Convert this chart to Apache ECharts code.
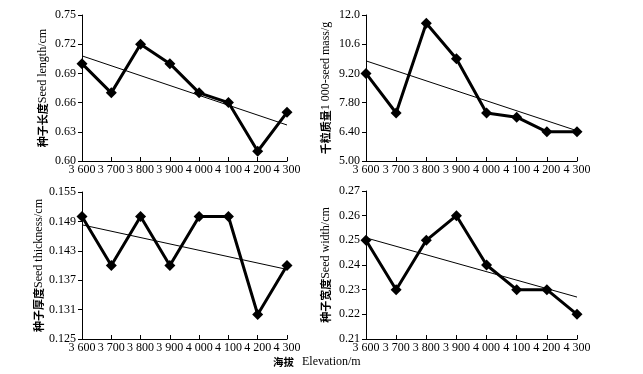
<!DOCTYPE html>
<html>
<head>
<meta charset="utf-8">
<script src="https://cdn.jsdelivr.net/npm/echarts@6/dist/echarts.min.js"></script>
<style>
  html, body { margin: 0; padding: 0; background: #fff; }
  #chart { width: 643px; height: 374px; }
</style>
</head>
<body>
<div id="chart"></div>
<script>
// 海拔 categories
const elevations = ['3 600', '3 700', '3 800', '3 900', '4 000', '4 100', '4 200', '4 300']

// measured values
const seedLength = [0.70, 0.67, 0.72, 0.70, 0.67, 0.66, 0.61, 0.65]
const seedMass = [9.2, 7.3, 11.6, 9.9, 7.3, 7.1, 6.4, 6.4]
const seedThickness = [0.150, 0.140, 0.150, 0.140, 0.150, 0.150, 0.130, 0.140]
const seedWidth = [0.25, 0.23, 0.25, 0.26, 0.24, 0.23, 0.23, 0.22]

// trend line ends (3 600 / 4 300)
const trendLength = [0.708, 0.637]
const trendMass = [9.8, 6.45]
const trendThickness = [0.1483, 0.1392]
const trendWidth = [0.251, 0.227]

// y tick values
const ticksLength = [0.60, 0.63, 0.66, 0.69, 0.72, 0.75]
const ticksMass = [5.0, 6.4, 7.8, 9.2, 10.6, 12.0]
const ticksThickness = [0.125, 0.131, 0.137, 0.143, 0.149, 0.155]
const ticksWidth = [0.21, 0.22, 0.23, 0.24, 0.25, 0.26, 0.27]

const serif = '"Liberation Serif", "Times New Roman", serif'
const cjk = '"Noto Sans CJK SC", sans-serif'

const panels = [
  { cn: '种子长度', en: 'Seed length/cm', data: seedLength, trend: trendLength, ticks: ticksLength,
    fmt: v => v.toFixed(2), grid: { left: 82, top: 15, width: 205, height: 146 }, gap: 33 },
  { cn: '千粒质量', en: '1 000-seed mass/g', data: seedMass, trend: trendMass, ticks: ticksMass,
    fmt: v => v.toPrecision(3), grid: { left: 366, top: 15, width: 211, height: 146 }, gap: 34 },
  { cn: '种子厚度', en: 'Seed thickness/cm', data: seedThickness, trend: trendThickness, ticks: ticksThickness,
    fmt: v => v.toFixed(3), grid: { left: 82, top: 192, width: 205, height: 147 }, gap: 35 },
  { cn: '种子宽度', en: 'Seed width/cm', data: seedWidth, trend: trendWidth, ticks: ticksWidth,
    fmt: v => v.toFixed(2), grid: { left: 366, top: 191, width: 211, height: 148 }, gap: 34 }
]

const chart = echarts.init(document.getElementById('chart'))

const grid = []
const xAxis = []
const yAxis = []
const series = []

panels.forEach((p, i) => {
  grid.push(Object.assign({ outerBoundsMode: 'none', containLabel: false }, p.grid))
  xAxis.push({
    type: 'category',
    gridIndex: i,
    data: elevations,
    boundaryGap: false,
    axisLine: { lineStyle: { color: '#000', width: 1 } },
    axisTick: { inside: true, length: 4, lineStyle: { color: '#000' } },
    axisLabel: { color: '#000', fontFamily: serif, fontSize: 12, margin: 3,
      interval: 0, hideOverlap: false },
    splitLine: { show: false }
  })
  yAxis.push({
    type: 'value',
    gridIndex: i,
    min: p.ticks[0],
    max: p.ticks[p.ticks.length - 1],
    name: '{c|' + p.cn + '}{e|' + p.en + '}',
    nameLocation: 'middle',
    nameRotate: 90,
    nameGap: p.gap,
    nameTextStyle: {
      rich: {
        c: { fontFamily: cjk, fontSize: 11, fontWeight: 'bold', color: '#000' },
        e: { fontFamily: serif, fontSize: 12, color: '#000' }
      }
    },
    axisLine: { show: true, lineStyle: { color: '#000', width: 1 } },
    axisTick: { show: true, length: 4, customValues: p.ticks, lineStyle: { color: '#000' } },
    axisLabel: { color: '#000', fontFamily: serif, fontSize: 12, margin: 6,
      customValues: p.ticks, formatter: p.fmt },
    splitLine: { show: false }
  })
  series.push({
    type: 'line',
    xAxisIndex: i,
    yAxisIndex: i,
    data: p.data,
    symbol: 'diamond',
    symbolSize: 11,
    lineStyle: { color: '#000', width: 3 },
    itemStyle: { color: '#000' },
    z: 3
  })
  series.push({
    type: 'line',
    xAxisIndex: i,
    yAxisIndex: i,
    data: [[elevations[0], p.trend[0]], [elevations[elevations.length - 1], p.trend[1]]],
    symbol: 'none',
    lineStyle: { color: '#000', width: 1 },
    z: 2
  })
})

chart.setOption({
  animation: false,
  backgroundColor: '#fff',
  title: {
    text: '{c|海拔}{e|Elevation/m}',
    left: 273,
    top: 356,
    padding: 0,
    textStyle: {
      rich: {
        c: { fontFamily: cjk, fontSize: 10.5, fontWeight: 'bold', color: '#000', padding: [0, 8, 0, 0] },
        e: { fontFamily: serif, fontSize: 12, fontWeight: 'normal', color: '#000' }
      }
    }
  },
  grid: grid,
  xAxis: xAxis,
  yAxis: yAxis,
  series: series
})
</script>
</body>
</html>
